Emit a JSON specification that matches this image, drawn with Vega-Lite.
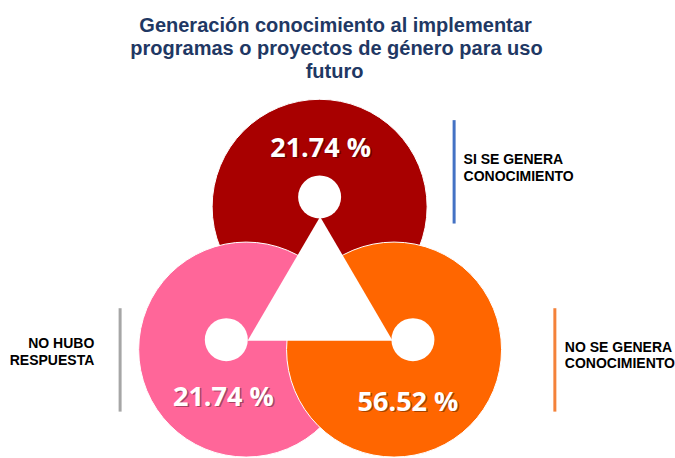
{
  "$schema": "https://vega.github.io/schema/vega-lite/v6.json",
  "width": 675,
  "height": 458,
  "autosize": {"type": "fit", "contains": "padding"},
  "padding": 0,
  "background": "white",
  "config": {"view": {"stroke": null}},
  "datasets": {
    "titulo": [
      {"texto": "Generación conocimiento al implementar", "x": 338, "y": 32.5},
      {"texto": "programas o proyectos de género para uso", "x": 339, "y": 56},
      {"texto": "futuro", "x": 337, "y": 79.5}
    ],
    "circulos": [
      {"grupo": "SI SE GENERA CONOCIMIENTO", "x": 322, "y": 210},
      {"grupo": "NO HUBO RESPUESTA", "x": 248, "y": 355},
      {"grupo": "NO SE GENERA CONOCIMIENTO", "x": 397, "y": 355}
    ],
    "triangulo": [{"x": 322.5, "y": 283}],
    "huecos": [
      {"grupo": "SI SE GENERA CONOCIMIENTO", "x": 322, "y": 200},
      {"grupo": "NO HUBO RESPUESTA", "x": 228, "y": 345},
      {"grupo": "NO SE GENERA CONOCIMIENTO", "x": 416, "y": 345}
    ],
    "porcentajes": [
      {"grupo": "SI SE GENERA CONOCIMIENTO", "pct": "21.74 %", "x": 323, "y": 159},
      {"grupo": "NO HUBO RESPUESTA", "pct": "21.74 %", "x": 225, "y": 412},
      {"grupo": "NO SE GENERA CONOCIMIENTO", "pct": "56.52 %", "x": 411, "y": 417}
    ],
    "barras": [
      {"grupo": "barra SI", "x": 457.5, "y": 122, "y2": 227},
      {"grupo": "barra NO HUBO", "x": 121, "y": 313, "y2": 418},
      {"grupo": "barra NO", "x": 559, "y": 313, "y2": 418}
    ],
    "etiquetasIzq": [
      {"texto": "SI SE GENERA", "x": 467, "y": 167},
      {"texto": "CONOCIMIENTO", "x": 467, "y": 184},
      {"texto": "NO SE GENERA", "x": 569, "y": 357},
      {"texto": "CONOCIMIENTO", "x": 569, "y": 374}
    ],
    "etiquetasDer": [
      {"texto": "NO HUBO", "x": 95, "y": 353},
      {"texto": "RESPUESTA", "x": 95, "y": 371}
    ]
  },
  "encoding": {
    "x": {"field": "x", "type": "quantitative", "scale": {"domain": [0, 675], "nice": false, "zero": false}, "axis": null},
    "y": {"field": "y", "type": "quantitative", "scale": {"domain": [0, 458], "nice": false, "zero": false, "reverse": true}, "axis": null}
  },
  "layer": [
    {
      "data": {"name": "circulos"},
      "mark": {"type": "point", "shape": "circle", "filled": true, "size": 46225, "opacity": 1, "stroke": "white", "strokeWidth": 1},
      "encoding": {
        "color": {
          "field": "grupo", "type": "nominal", "legend": null,
          "scale": {
            "domain": ["SI SE GENERA CONOCIMIENTO", "NO HUBO RESPUESTA", "NO SE GENERA CONOCIMIENTO", "barra SI", "barra NO HUBO", "barra NO"],
            "range": ["#A80000", "#FF6699", "#FF6600", "#4472C4", "#A6A6A6", "#F4823A"]
          }
        }
      }
    },
    {
      "data": {"name": "triangulo"},
      "mark": {"type": "point", "shape": "M0,-0.855L1,0.855L-1,0.855Z", "filled": true, "size": 21025, "opacity": 1, "color": "white", "strokeWidth": 0}
    },
    {
      "data": {"name": "huecos"},
      "mark": {"type": "point", "shape": "circle", "filled": true, "size": 1849, "opacity": 1, "color": "white", "strokeWidth": 0}
    },
    {
      "data": {"name": "porcentajes"},
      "mark": {"type": "text", "font": "Open Sans", "fontWeight": "bold", "fontSize": 27, "align": "center", "baseline": "alphabetic", "color": "#000000", "opacity": 0.35, "dx": 1.5, "dy": 1.5},
      "encoding": {"text": {"field": "pct"}}
    },
    {
      "data": {"name": "porcentajes"},
      "mark": {"type": "text", "font": "Open Sans", "fontWeight": "bold", "fontSize": 27, "align": "center", "baseline": "alphabetic", "color": "white"},
      "encoding": {"text": {"field": "pct"}}
    },
    {
      "data": {"name": "barras"},
      "mark": {"type": "rule", "strokeWidth": 3},
      "encoding": {
        "y2": {"field": "y2"},
        "color": {"field": "grupo", "type": "nominal", "legend": null}
      }
    },
    {
      "data": {"name": "etiquetasIzq"},
      "mark": {"type": "text", "font": "Liberation Sans", "fontWeight": "bold", "fontSize": 14, "align": "left", "baseline": "alphabetic", "color": "#000000"},
      "encoding": {"text": {"field": "texto"}}
    },
    {
      "data": {"name": "etiquetasDer"},
      "mark": {"type": "text", "font": "Liberation Sans", "fontWeight": "bold", "fontSize": 14, "align": "right", "baseline": "alphabetic", "color": "#000000"},
      "encoding": {"text": {"field": "texto"}}
    },
    {
      "data": {"name": "titulo"},
      "mark": {"type": "text", "font": "Liberation Sans", "fontWeight": "bold", "fontSize": 20, "align": "center", "baseline": "alphabetic", "color": "#1F3864"},
      "encoding": {"text": {"field": "texto"}}
    }
  ]
}
